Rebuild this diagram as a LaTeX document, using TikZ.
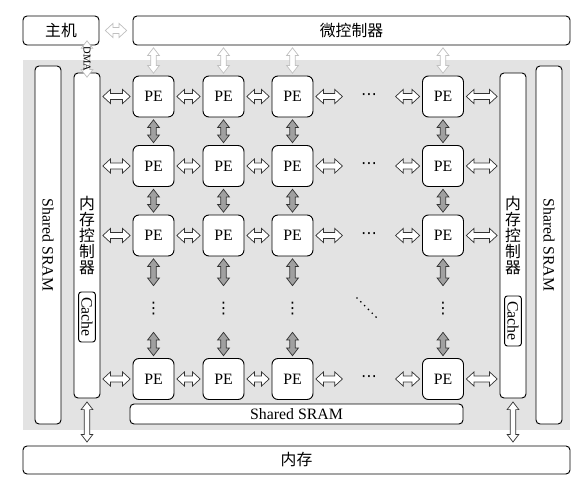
\documentclass[tikz,border=0pt]{standalone}
\usepackage{fontspec}
\setmainfont{Liberation Serif}
\newfontfamily\cjk{Noto Sans CJK SC}
\newfontfamily\symf{DejaVu Sans}
\usetikzlibrary{calc,positioning}
\definecolor{bggray}{RGB}{227,227,227}
\definecolor{arrgray}{RGB}{160,160,160}
\definecolor{litegray}{RGB}{192,192,192}

% fat arrow sizes: head length, head half width, shaft half width
\newcommand{\fah}{6.5pt}
\newcommand{\fhw}{6pt}
\newcommand{\fhs}{2.6pt}
\newcommand{\fvw}{5pt}
\newcommand{\fvs}{2.3pt}

\tikzset{
  hfat/.style={to path={let \p1=(\tikztostart), \p2=(\tikztotarget) in
    (\x1+#1,\y1) -- (\x1+#1+\fah,\y1+\fhw) -- (\x1+#1+\fah,\y1+\fhs)
    -- (\x2-#1-\fah,\y1+\fhs) -- (\x2-#1-\fah,\y1+\fhw) -- (\x2-#1,\y1)
    -- (\x2-#1-\fah,\y1-\fhw) -- (\x2-#1-\fah,\y1-\fhs) -- (\x1+#1+\fah,\y1-\fhs)
    -- (\x1+#1+\fah,\y1-\fhw) -- cycle}},
  hfat/.default=2pt,
  vfat/.style={to path={let \p1=(\tikztostart), \p2=(\tikztotarget) in
    (\x1,\y1-#1) -- (\x1+\fvw,\y1-#1-\fah) -- (\x1+\fvs,\y1-#1-\fah)
    -- (\x1+\fvs,\y2+#1+\fah) -- (\x1+\fvw,\y2+#1+\fah) -- (\x1,\y2+#1)
    -- (\x1-\fvw,\y2+#1+\fah) -- (\x1-\fvs,\y2+#1+\fah) -- (\x1-\fvs,\y1-#1-\fah)
    -- (\x1-\fvw,\y1-#1-\fah) -- cycle}},
  vfat/.default=2pt
}

\begin{document}
\begin{tikzpicture}[x=0.03cm, y=-0.03cm,
    font=\fontsize{13.5}{13.8}\selectfont,
    box/.style={draw, rounded corners=0.12cm, line width=0.8pt, fill=white, inner sep=0pt},
    pe/.style={box, rounded corners=0.18cm, minimum width=1.23cm, minimum height=1.23cm},
    cjkf/.style={font=\fontsize{13.5}{13.8}\selectfont\cjk},
    hdots/.style={inner sep=0pt, minimum width=1.44cm, font=\fontsize{13.5}{13.8}\selectfont\symf},
    vdots/.style={inner sep=0pt, font=\fontsize{13.5}{13.8}\selectfont\symf},
    harr/.style={draw=black!80, fill=white, line width=0.6pt},
    varr/.style={draw=black!80, fill=arrgray, line width=0.6pt},
    larr/.style={draw=litegray, fill=white, line width=0.6pt}
  ]
    \useasboundingbox (0,0) rectangle (580,487);
    \fill[bggray] (23,60) rectangle (570,430);

    \node[box, cjkf, minimum width=2.28cm, minimum height=0.87cm] (host) at (61,30.5) {主机};
    \node[box, cjkf, minimum width=13.11cm, minimum height=0.87cm] (mcu) at (351.5,30.5) {微控制器};
    \node[box, rotate=-90, minimum width=10.74cm, minimum height=0.78cm] (sramL) at (48,245) {Shared SRAM};
    \node[box, rotate=-90, minimum width=10.74cm, minimum height=0.78cm] (sramR) at (549,245) {Shared SRAM};
    \node[box, cjkf, align=center, minimum width=0.78cm, minimum height=9.75cm] (mcL) at (87,235.5) {内\\存\\控\\制\\器};
    \node[box, cjkf, align=center, minimum width=0.78cm, minimum height=9.75cm] (mcR) at (513,235.5) {内\\存\\控\\制\\器};
    \node[box, rotate=-90, rounded corners=0.08cm, minimum width=1.5cm, minimum height=0.5cm] (cacheL) at (87,317) {Cache};
    \node[box, rotate=-90, rounded corners=0.08cm, minimum width=1.5cm, minimum height=0.5cm] (cacheR) at (513,321) {Cache};
    \node[box, minimum width=9.99cm, minimum height=0.6cm] (sramB) at (296.5,414) {Shared SRAM};
    \node[box, cjkf, minimum width=16.41cm, minimum height=0.84cm] (mem) at (296.5,460) {内存};

    % PE array
    \foreach \r/\y in {1/96.5,2/166,3/235.5,4/379}{
      \foreach \c/\x in {1/153.5,2/223.5,3/292.5,4/443}
        \node[pe] (pe\r\c) at (\x,\y) {PE};
      \node[hdots] (hd\r) at (369,\y) {⋯};
    }
    \foreach \c/\x in {1/153.5,2/223.5,3/292.5,4/443}{
      \node[vdots] (vd\c) at (\x,309) {⋮};
      \coordinate (vt\c) at (\x,288);
      \coordinate (vb\c) at (\x,330);
    }
    \coordinate (dd1) at (357,298);
    \coordinate (dd2) at (377,318);
    \draw[black, line width=1.6pt, line cap=round, dash pattern=on 0pt off 4.6pt] (dd1) -- (dd2);

    % links
    \foreach \r in {1,2,3,4}{
      \draw[harr] (mcL.east |- pe\r1.west) to[hfat] (pe\r1.west);
      \draw[harr] (pe\r1.east) to[hfat] (pe\r2.west);
      \draw[harr] (pe\r2.east) to[hfat] (pe\r3.west);
      \draw[harr] (pe\r3.east) to[hfat] (hd\r.west);
      \draw[harr] (hd\r.east) to[hfat] (pe\r4.west);
      \draw[harr] (pe\r4.east) to[hfat] (mcR.west |- pe\r4.east);
    }
    \foreach \c in {1,2,3,4}{
      \draw[larr] (mcu.south -| pe1\c.north) to[vfat] (pe1\c.north);
      \draw[varr] (pe1\c.south) to[vfat] (pe2\c.north);
      \draw[varr] (pe2\c.south) to[vfat] (pe3\c.north);
      \draw[varr] (pe3\c.south) to[vfat] (vt\c);
      \draw[varr] (vb\c) to[vfat] (pe4\c.north);
    }
    \draw[larr] (host.east) to[hfat=5pt] (mcu.west);
    \draw[larr] (mcL.north |- host.south) to[vfat=-4pt] (mcL.north);
    \node[rotate=-90, inner sep=0pt, font=\fontsize{9}{9}\selectfont] (dma) at (87,59) {DMA};
    \draw[harr] (mcL.south) to[vfat=3pt] (mcL.south |- mem.north);
    \draw[harr] (mcR.south) to[vfat=3pt] (mcR.south |- mem.north);
  \end{tikzpicture}
\end{document}
